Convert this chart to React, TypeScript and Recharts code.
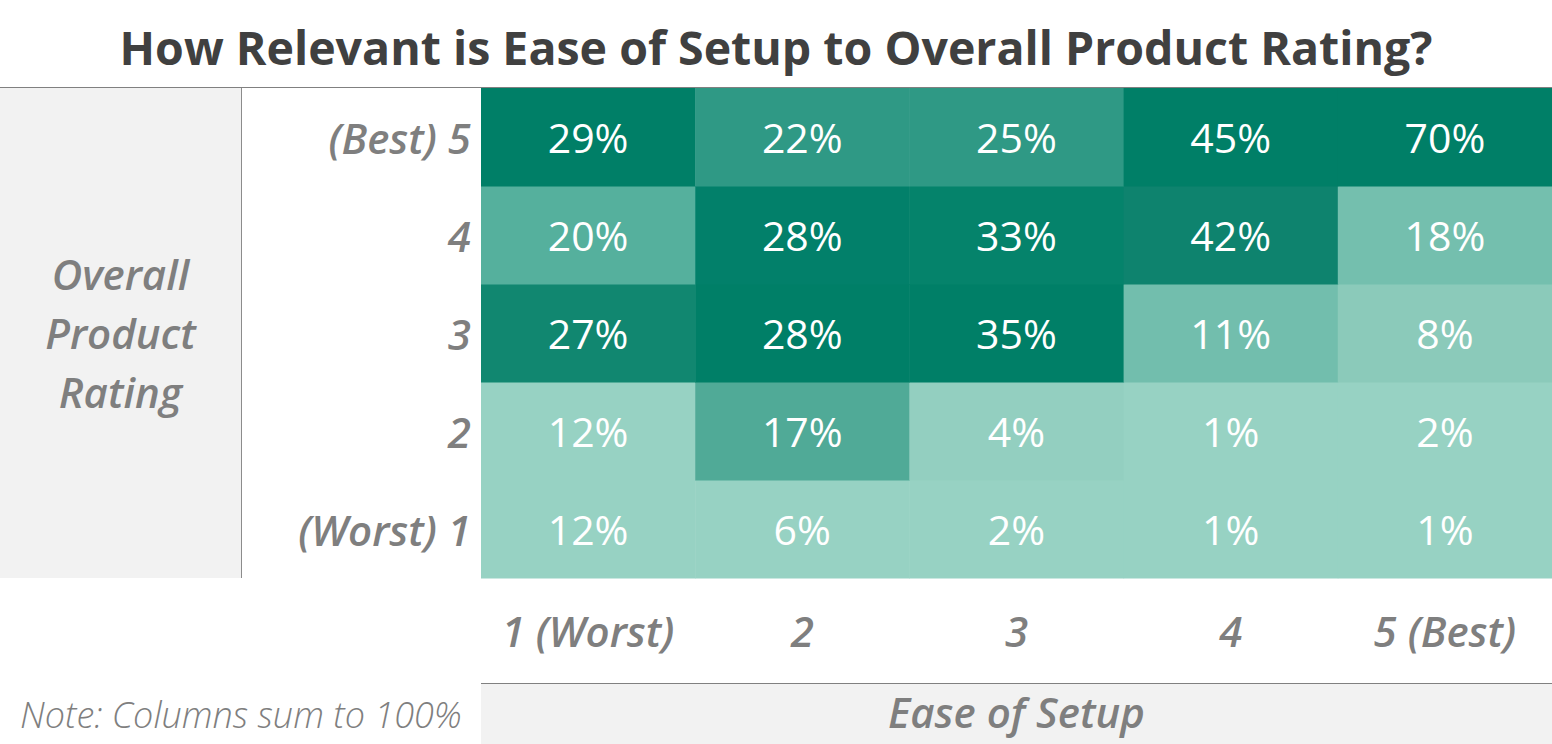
import React from "react";
import { ScatterChart, Scatter, XAxis, YAxis } from "recharts";

// ease of setup (columns), left to right
const setupLabels = ["1 (Worst)", "2", "3", "4", "5 (Best)"];
// overall product rating (rows), worst to best
const ratingLabels = ["(Worst) 1", "2", "3", "4", "(Best) 5"];

// % of each setup column, one array per rating row
const rating1 = [12, 6, 2, 1, 1];
const rating2 = [12, 17, 4, 1, 2];
const rating3 = [27, 28, 35, 11, 8];
const rating4 = [20, 28, 33, 42, 18];
const rating5 = [29, 22, 25, 45, 70];
const ratingRows = [rating1, rating2, rating3, rating4, rating5];

// cell shades, same order as ratingRows
const shades = [
  ["#97d2c3", "#97d2c3", "#97d2c3", "#97d2c3", "#97d2c3"],
  ["#97d2c3", "#50aa97", "#93cfc0", "#97d2c3", "#97d2c3"],
  ["#118770", "#007f67", "#007f67", "#72bead", "#8bcaba"],
  ["#55b09d", "#02806a", "#05836b", "#0e836e", "#74bfae"],
  ["#007f67", "#2f9985", "#2f9985", "#007f67", "#007f67"],
];

const W = 1552;
const H = 744;
const PLOT = { left: 481, top: 88, right: 1552, bottom: 578 };
const cellW = (PLOT.right - PLOT.left) / setupLabels.length;
const cellH = (PLOT.bottom - PLOT.top) / ratingLabels.length;

const FONT = "'Open Sans', 'DejaVu Sans', sans-serif";
const GREY_TEXT = "#7f7f7f";
const LABEL_SIZE = 42;

type Cell = { setup: string; rating: string; value: number; r: number; c: number };

const cells: Cell[] = [];
ratingLabels.forEach((rating, r) => {
  setupLabels.forEach((setup, c) => {
    cells.push({ setup, rating, value: ratingRows[r][c], r, c });
  });
});

const HeatCell = (props: any) => {
  const { cx, cy, payload } = props;
  if (cx == null || cy == null) return null;
  return (
    <g>
      <rect
        x={cx - cellW / 2}
        y={cy - cellH / 2}
        width={cellW + 0.5}
        height={cellH + 0.5}
        fill={shades[payload.r][payload.c]}
      />
      <text
        x={cx}
        y={cy}
        textAnchor="middle"
        dominantBaseline="central"
        fill="#ffffff"
        fontFamily={FONT}
        fontSize={41}
      >
        {payload.value}%
      </text>
    </g>
  );
};

const SetupTick = (props: any) => {
  const { x, y, payload } = props;
  return (
    <text
      x={x}
      y={y + 44}
      textAnchor="middle"
      dominantBaseline="central"
      fill={GREY_TEXT}
      fontFamily={FONT}
      fontStyle="italic"
      fontWeight={600}
      fontSize={LABEL_SIZE}
    >
      {payload.value}
    </text>
  );
};

const RatingTick = (props: any) => {
  const { x, y, payload } = props;
  return (
    <text
      x={x - 2}
      y={y}
      textAnchor="end"
      dominantBaseline="central"
      fill={GREY_TEXT}
      fontFamily={FONT}
      fontStyle="italic"
      fontWeight={600}
      fontSize={LABEL_SIZE}
    >
      {payload.value}
    </text>
  );
};

export default function App() {
  return (
    <div
      style={{
        position: "absolute",
        left: 0,
        top: 0,
        width: W,
        height: H,
        background: "#ffffff",
        fontFamily: FONT,
        overflow: "hidden",
      }}
    >
      {/* title */}
      <div
        style={{
          position: "absolute",
          left: 0,
          top: 14,
          width: W,
          textAlign: "center",
          fontSize: 46.5,
          fontWeight: 700,
          color: "#404040",
          lineHeight: "66px",
          whiteSpace: "nowrap",
        }}
      >
        How Relevant is Ease of Setup to Overall Product Rating?
      </div>

      {/* top rule */}
      <div style={{ position: "absolute", left: 0, top: 87, width: W, height: 1, background: "#808080" }} />

      {/* left panel */}
      <div
        style={{
          position: "absolute",
          left: 0,
          top: 88,
          width: 241,
          height: 490,
          background: "#f2f2f2",
          borderRight: "1px solid #8c8c8c",
        }}
      />
      <div
        style={{
          position: "absolute",
          left: 0,
          top: 244,
          width: 241,
          textAlign: "center",
          fontSize: LABEL_SIZE,
          fontStyle: "italic",
          fontWeight: 600,
          color: GREY_TEXT,
          lineHeight: "59px",
        }}
      >
        Overall
        <br />
        Product
        <br />
        Rating
      </div>

      {/* bottom panel */}
      <div
        style={{
          position: "absolute",
          left: 481,
          top: 683,
          width: W - 481,
          height: H - 683,
          background: "#f2f2f2",
          borderTop: "1px solid #808080",
        }}
      />
      <div
        style={{
          position: "absolute",
          left: 481,
          top: 683,
          width: W - 481,
          textAlign: "center",
          fontSize: LABEL_SIZE,
          fontStyle: "italic",
          fontWeight: 600,
          color: GREY_TEXT,
          lineHeight: "58px",
        }}
      >
        Ease of Setup
      </div>
      <div
        style={{
          position: "absolute",
          left: 20,
          top: 690,
          fontSize: 36,
          fontStyle: "italic",
          fontWeight: 300,
          color: GREY_TEXT,
          lineHeight: "50px",
          whiteSpace: "nowrap",
        }}
      >
        Note: Columns sum to 100%
      </div>

      <div style={{ position: "absolute", left: 0, top: 0 }}>
        <ScatterChart
          width={W}
          height={H}
          margin={{ top: PLOT.top, right: W - PLOT.right, bottom: 61, left: 241 }}
        >
          <XAxis
            dataKey="setup"
            type="category"
            allowDuplicatedCategory={false}
            axisLine={false}
            tickLine={false}
            height={105}
            tick={<SetupTick />}
            interval={0}
          />
          <YAxis
            dataKey="rating"
            type="category"
            allowDuplicatedCategory={false}
            axisLine={false}
            tickLine={false}
            width={240}
            tick={<RatingTick />}
            interval={0}
          />
          <Scatter data={cells} shape={<HeatCell />} isAnimationActive={false} />
        </ScatterChart>
      </div>
    </div>
  );
}
